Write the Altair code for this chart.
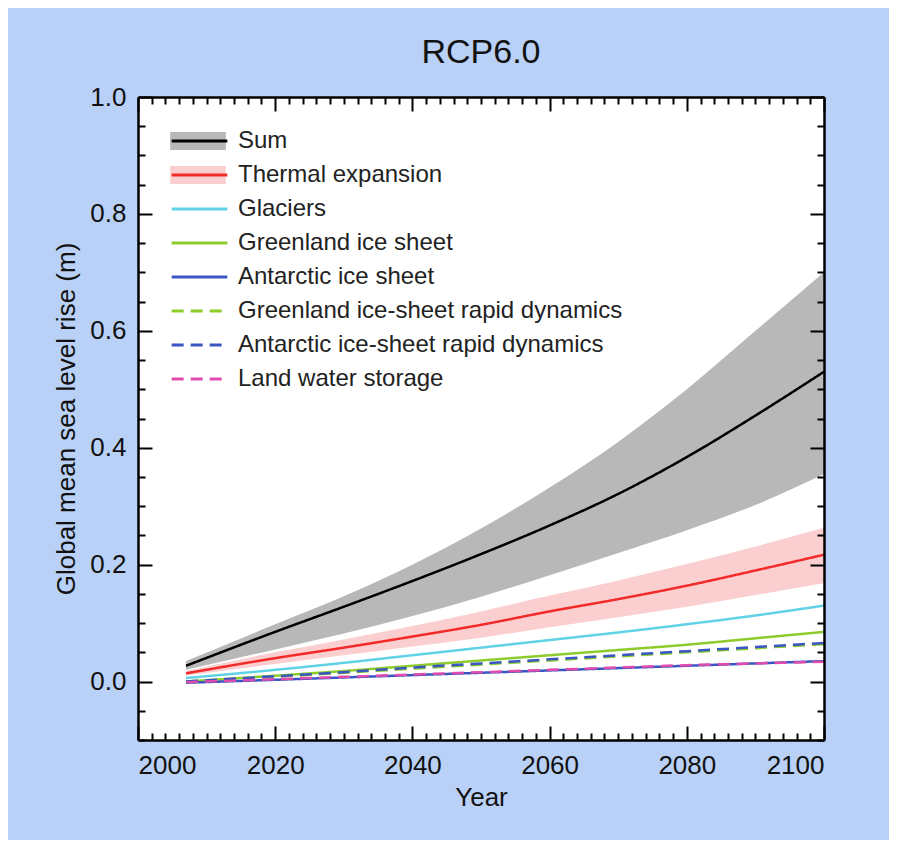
import altair as alt
import pandas as pd

# ---------------- data ----------------
years = [2007, 2020, 2030, 2040, 2050, 2060, 2070, 2080, 2090, 2100]

sum_mid = [0.027, 0.085, 0.128, 0.172, 0.218, 0.267, 0.321, 0.384, 0.455, 0.530]
sum_lo = [0.020, 0.055, 0.082, 0.112, 0.145, 0.182, 0.220, 0.259, 0.302, 0.355]
sum_hi = [0.035, 0.098, 0.146, 0.200, 0.262, 0.332, 0.410, 0.500, 0.600, 0.700]

thermal_mid = [0.014, 0.040, 0.058, 0.077, 0.097, 0.120, 0.141, 0.164, 0.190, 0.217]
thermal_lo = [0.010, 0.030, 0.045, 0.060, 0.075, 0.093, 0.110, 0.128, 0.148, 0.168]
thermal_hi = [0.018, 0.050, 0.072, 0.095, 0.120, 0.147, 0.173, 0.201, 0.231, 0.263]

glaciers = [0.006, 0.020, 0.032, 0.045, 0.058, 0.071, 0.084, 0.098, 0.113, 0.130]
greenland = [0.000, 0.010, 0.018, 0.027, 0.036, 0.045, 0.054, 0.063, 0.074, 0.085]
antarctic = [-0.002, 0.003, 0.007, 0.011, 0.015, 0.019, 0.023, 0.027, 0.031, 0.035]
greenland_dyn = [0.000, 0.008, 0.015, 0.022, 0.029, 0.036, 0.043, 0.050, 0.057, 0.064]
antarctic_dyn = [0.000, 0.009, 0.016, 0.024, 0.031, 0.038, 0.045, 0.052, 0.059, 0.066]
land_water = [-0.001, 0.004, 0.008, 0.012, 0.016, 0.020, 0.024, 0.028, 0.031, 0.034]

series_names = [
    "Sum",
    "Thermal expansion",
    "Glaciers",
    "Greenland ice sheet",
    "Antarctic ice sheet",
    "Greenland ice-sheet rapid dynamics",
    "Antarctic ice-sheet rapid dynamics",
    "Land water storage",
]
series_colors = ["#000000", "#f42a2a", "#5fd2e6", "#8dcc2c", "#3b56c2",
                 "#8dcc2c", "#3b56c2", "#e04cae"]
series_dash = [[1, 0], [1, 0], [1, 0], [1, 0], [1, 0], [12, 7], [12, 7], [12, 7]]

band_names = ["Sum", "Thermal expansion"]
band_colors = ["#b8b8b8", "#fbcfcf"]

series_values = {
    "Sum": sum_mid,
    "Thermal expansion": thermal_mid,
    "Glaciers": glaciers,
    "Greenland ice sheet": greenland,
    "Antarctic ice sheet": antarctic,
    "Greenland ice-sheet rapid dynamics": greenland_dyn,
    "Antarctic ice-sheet rapid dynamics": antarctic_dyn,
    "Land water storage": land_water,
}
draw_order = [
    "Glaciers",
    "Greenland ice sheet",
    "Greenland ice-sheet rapid dynamics",
    "Antarctic ice-sheet rapid dynamics",
    "Antarctic ice sheet",
    "Land water storage",
    "Thermal expansion",
    "Sum",
]

x_label_values = [2000, 2020, 2040, 2060, 2080, 2100]
y_label_values = [0.0, 0.2, 0.4, 0.6, 0.8, 1.0]
x_tick_values = list(range(2000, 2101, 2))
y_tick_values = [-0.1, -0.05, 0.0, 0.05, 0.1, 0.15, 0.2, 0.25, 0.3, 0.35, 0.4, 0.45,
                 0.5, 0.55, 0.6, 0.65, 0.7, 0.75, 0.8, 0.85, 0.9, 0.95, 1.0]

# ---------------- tables ----------------
rows = []
for name in draw_order:
    for yr, v in zip(years, series_values[name]):
        rows.append({"year": yr, "value": v, "series": name})
lines_df = pd.DataFrame(rows)

bands_df = pd.DataFrame({
    "year": years,
    "sum_lo": sum_lo, "sum_hi": sum_hi,
    "th_lo": thermal_lo, "th_hi": thermal_hi,
})

# ---------------- layout ----------------
TOTAL_W, TOTAL_H = 883, 831
PAD = {"left": 45, "top": 28, "right": 60, "bottom": 30}
LEFT_AXIS, BOTTOM_AXIS, TITLE_SPACE = 92, 78, 52
W = TOTAL_W - PAD["left"] - PAD["right"] - LEFT_AXIS
H = TOTAL_H - PAD["top"] - PAD["bottom"] - BOTTOM_AXIS - TITLE_SPACE
FONT = "Liberation Sans"

x_scale = alt.Scale(domain=[2000, 2100], nice=False, zero=False)
y_scale = alt.Scale(domain=[-0.1, 1.0], nice=False, zero=False)

major_x = "datum.value % 20 === 0"
major_y = "abs(datum.value * 5 - round(datum.value * 5)) < 0.001"

# axes carrying labels/titles (no ticks)
x_label_axis = alt.Axis(orient="bottom", values=x_label_values, format="d",
                        ticks=False, domain=False, grid=False, labelPadding=12,
                        title="Year", titlePadding=6)
y_label_axis = alt.Axis(orient="left", values=y_label_values, format=".1f",
                        ticks=False, domain=False, grid=False, labelPadding=12,
                        title="Global mean sea level rise (m)", titlePadding=10)

tick_common = dict(labels=False, title=None, grid=False, tickWidth=2,
                   tickColor="black", domain=True, domainWidth=2.5,
                   domainColor="black", zindex=2)
x_size = {"condition": {"test": major_x, "value": 14}, "value": 7}
y_size = {"condition": {"test": major_y, "value": 14}, "value": 7}

# inward ticks on bottom and left edges
x_ticks_bottom = alt.Axis(orient="top", offset=-H, values=x_tick_values,
                          tickSize=x_size, **tick_common)
y_ticks_left = alt.Axis(orient="right", offset=-W, values=y_tick_values,
                        tickSize=y_size, **tick_common)
# inward ticks on top and right edges
x_ticks_top = alt.Axis(orient="bottom", offset=-H, values=x_tick_values,
                       tickSize=x_size, **tick_common)
y_ticks_right = alt.Axis(orient="left", offset=-W, values=y_tick_values,
                         tickSize=y_size, **tick_common)

LEG_X, LEG_Y = 32, 32
common_legend = dict(
    title=None, orient="none", legendX=LEG_X, legendY=LEG_Y,
    symbolSize=3100, labelFontSize=24, labelFont=FONT,
    labelOffset=9, rowPadding=10, padding=0, labelLimit=700, clipHeight=24,
)

# band swatches drawn behind the line symbols of the first two entries
band_legend = alt.Legend(
    symbolType="M-1,-0.32H1V0.32H-1Z", symbolStrokeWidth=0, symbolOpacity=1,
    labelExpr="''", zindex=0, **common_legend,
)
line_legend = alt.Legend(
    symbolType="stroke", symbolStrokeWidth=3, labelColor="#222222",
    zindex=1, **common_legend,
)

band_fill_scale = alt.Scale(domain=band_names, range=band_colors)

sum_band = (
    alt.Chart(bands_df)
    .transform_calculate(band="'Sum'")
    .mark_area(opacity=1, interpolate="monotone")
    .encode(
        x=alt.X("year:Q", scale=x_scale, axis=x_label_axis),
        y=alt.Y("sum_lo:Q", scale=y_scale, axis=y_label_axis),
        y2="sum_hi:Q",
        fill=alt.Fill("band:N", scale=band_fill_scale, legend=band_legend),
    )
)

th_band = (
    alt.Chart(bands_df)
    .transform_calculate(band="'Thermal expansion'")
    .mark_area(opacity=1, interpolate="monotone")
    .encode(
        x=alt.X("year:Q", scale=x_scale, axis=x_ticks_bottom),
        y=alt.Y("th_lo:Q", scale=y_scale, axis=y_ticks_left),
        y2="th_hi:Q",
        fill=alt.Fill("band:N", scale=band_fill_scale, legend=band_legend),
    )
)

lines = alt.Chart(lines_df).mark_line(
    strokeWidth=2.5, strokeCap="butt", interpolate="monotone"
).encode(
    x=alt.X("year:Q", scale=x_scale, axis=x_ticks_top),
    y=alt.Y("value:Q", scale=y_scale, axis=y_ticks_right),
    color=alt.Color("series:N",
                    scale=alt.Scale(domain=series_names, range=series_colors),
                    legend=line_legend),
    strokeDash=alt.StrokeDash("series:N",
                              scale=alt.Scale(domain=series_names, range=series_dash),
                              legend=line_legend),
    detail="series:N",
)

chart = (
    alt.layer(sum_band, th_band, lines)
    .resolve_axis(x="independent", y="independent")
    .properties(
        width=W, height=H,
        title=alt.TitleParams("RCP6.0", fontSize=34, fontWeight="normal",
                              font=FONT, color="#111111", offset=14),
        background="#b9d1f7",
        padding=PAD,
    )
    .configure_view(fill="white", stroke=None)
    .configure_axis(labelFont=FONT, titleFont=FONT, labelFontSize=26,
                    titleFontSize=26, labelColor="#111111", titleColor="#111111",
                    titleFontWeight="normal")
)

chart.save("out.html", embed_options={"renderer": "svg", "actions": False})
